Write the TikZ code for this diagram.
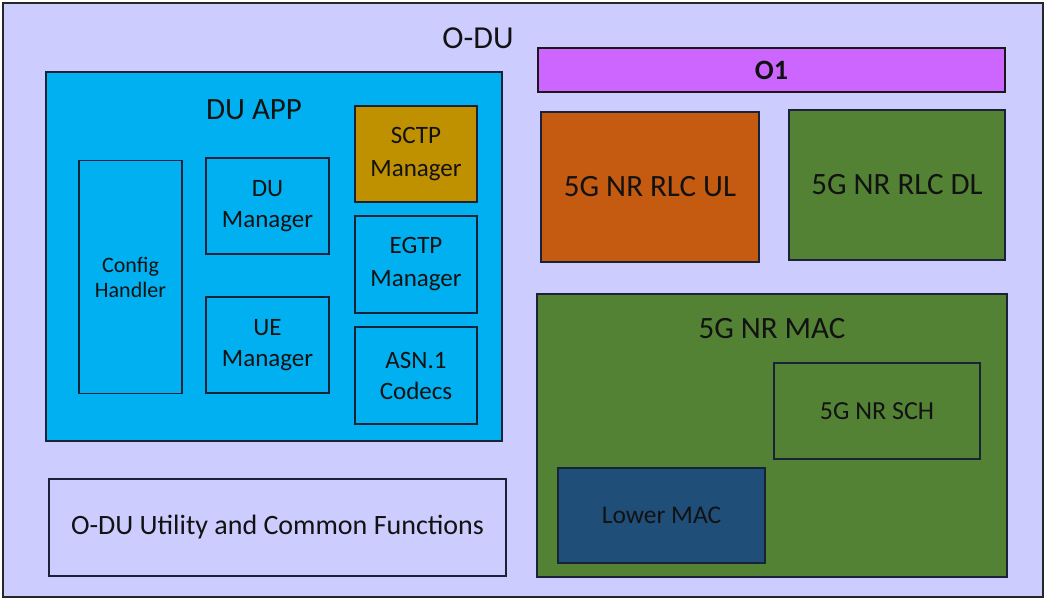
\documentclass[tikz,border=0pt]{standalone}
\usepackage{fontspec}
\setmainfont{Carlito}
\definecolor{lav}{HTML}{CCCCFF}
\definecolor{duapp}{HTML}{00B0F0}
\definecolor{gold}{HTML}{BF9000}
\definecolor{violet}{HTML}{CC66FF}
\definecolor{orng}{HTML}{C55A11}
\definecolor{grn}{HTML}{548235}
\definecolor{navy}{HTML}{1F4E79}
\definecolor{edge}{HTML}{1A2238}
\definecolor{txt}{HTML}{121212}
\newcommand\fs[2]{\fontsize{#1}{#2}\selectfont}
\tikzset{
  box/.style={draw=edge, line width=1.6pt, rectangle, inner sep=0pt, outer sep=0pt,
              text=txt, align=center},
  lbl/.style={inner sep=0pt, text=txt, align=center}
}
\begin{document}
\begin{tikzpicture}[x=1pt,y=-1pt]
\useasboundingbox (0,0) rectangle (1048,600);
% outer O-DU
\node[box, fill=lav, minimum width=1040pt, minimum height=594pt, draw=black!85] (odu) at (523,300) {};
\node[lbl, font=\fs{32}{38}] (odut) at (478,38) {O-DU};
% DU APP
\node[box, fill=duapp, minimum width=456pt, minimum height=369pt] (duapp) at (274,256.5) {};
\node[lbl, font=\fs{31}{37}] (duappt) at (254,110) {DU APP};
\node[box, fill=duapp, minimum width=103pt, minimum height=233pt, font=\fs{22}{25}] (cfg) at (130.5,277) {Config\\Handler};
\node[box, fill=duapp, minimum width=123pt, minimum height=96pt, font=\fs{25}{31}] (dum) at (267.5,206) {DU\\Manager};
\node[box, fill=duapp, minimum width=123pt, minimum height=96pt, font=\fs{25}{31}] (uem) at (267.5,345) {UE\\Manager};
\node[box, fill=gold, minimum width=122pt, minimum height=96pt, font=\fs{25}{33}] (sctp) at (416,154) {SCTP\\Manager};
\node[box, fill=duapp, minimum width=122pt, minimum height=97pt, font=\fs{25}{33}] (egtp) at (416,264.5) {EGTP\\Manager};
\node[box, fill=duapp, minimum width=122pt, minimum height=97pt, font=\fs{25}{31}] (asn) at (416,375.5) {ASN.1\\Codecs};
% utility
\node[box, fill=lav, minimum width=457pt, minimum height=97pt, font=\fs{28}{32}] (util) at (277.5,527.5) {O-DU Utility and Common Functions};
% O1
\node[box, fill=violet, minimum width=467pt, minimum height=44pt, font=\bfseries\fs{28}{30}, draw=black!90] (o1) at (771.5,70) {O1};
% RLC
\node[box, fill=orng, minimum width=218pt, minimum height=150pt, font=\fs{31}{36}] (rlcul) at (650,187) {5G NR RLC UL};
\node[box, fill=grn, minimum width=216pt, minimum height=150pt, font=\fs{31}{36}] (rlcdl) at (897,185) {5G NR RLC DL};
% MAC
\node[box, fill=grn, minimum width=470pt, minimum height=283pt] (mac) at (772,435.5) {};
\node[lbl, font=\fs{31}{36}] (mact) at (772,329) {5G NR MAC};
\node[box, fill=grn, minimum width=206pt, minimum height=96pt, font=\fs{26}{30}] (sch) at (877,411) {5G NR SCH};
\node[box, fill=navy, minimum width=207pt, minimum height=95pt, font=\fs{25.5}{30}] (lmac) at (661.5,515.5) {Lower MAC};
\end{tikzpicture}
\end{document}
